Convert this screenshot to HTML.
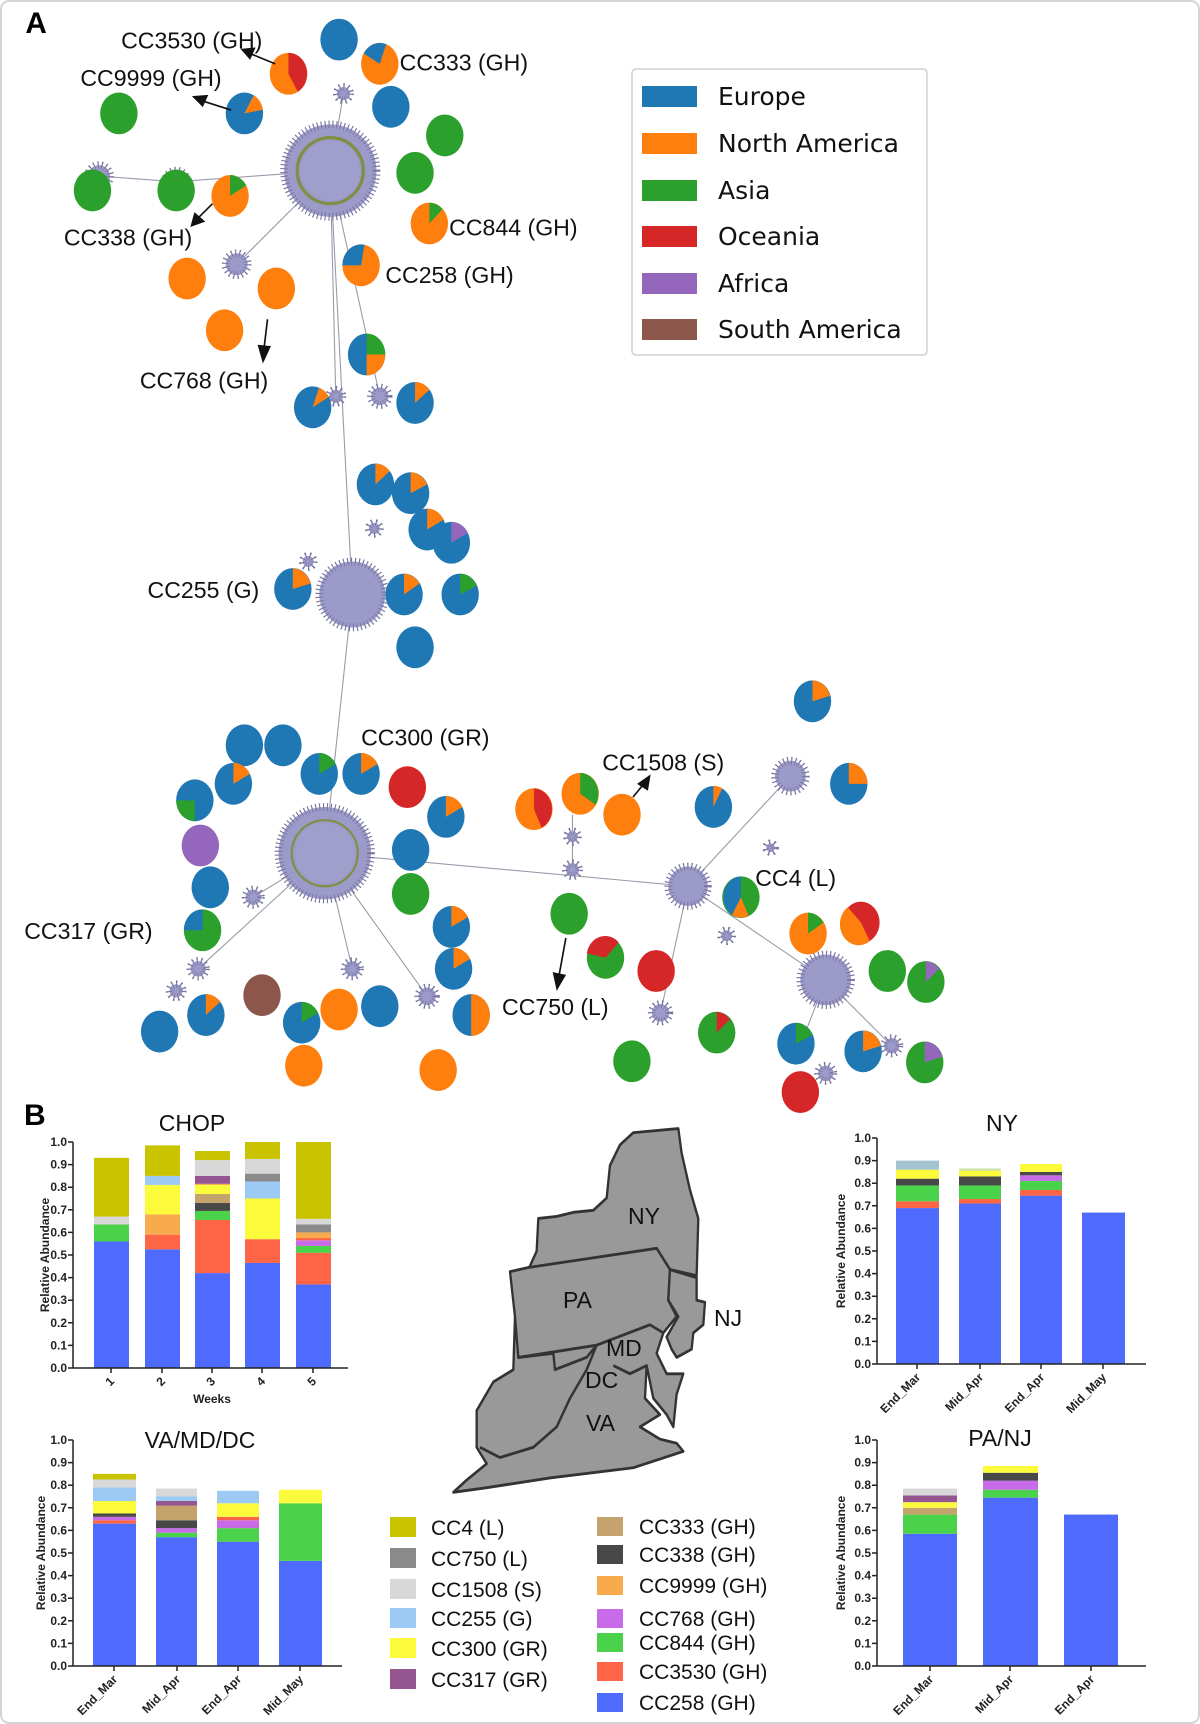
<!DOCTYPE html>
<html><head><meta charset="utf-8"><style>
html,body{margin:0;padding:0;background:#fff}
svg{display:block}
.t{font-family:"Liberation Sans",Arial,sans-serif;fill:#111}
.b{font-family:"Liberation Sans",Arial,sans-serif;font-weight:bold;fill:#222}
.dj{font-family:"DejaVu Sans","Liberation Sans",sans-serif;fill:#111}
.c4{fill:#c9c300}.c750{fill:#8a8a8a}.c1508{fill:#d8d8d8}.c255{fill:#9ccaf5}.c300{fill:#fbfb3c}.c317{fill:#955591}
.c333{fill:#c4a46c}.c338{fill:#484848}.c9999{fill:#f7ab4c}.c768{fill:#c86be8}.c844{fill:#4ad24a}.c3530{fill:#fe6446}.c258{fill:#4f6bfd}
.eu{fill:#1f77b4}.na{fill:#ff7f0e}.as{fill:#2ca02c}.oc{fill:#d62728}.af{fill:#9467bd}.sa{fill:#8c564b}
.hb{fill:#9c9ac8;stroke:#77759f;stroke-width:7;stroke-dasharray:1 2.5}
.ed{stroke:#9a9aaa;stroke-width:1;fill:none}
</style></head><body>
<svg width="1200" height="1724" viewBox="0 0 1200 1724" xmlns="http://www.w3.org/2000/svg">
<rect x="1" y="1" width="1198" height="1722" rx="8" fill="#fff" stroke="#d4d4d4" stroke-width="2"/>
<defs>
<g id="ax">
<line x1="0" y1="0" x2="0" y2="-226" stroke="#222" stroke-width="1.5"/>
<path d="M-5 0H0M-5 -22.6H0M-5 -45.2H0M-5 -67.8H0M-5 -90.4H0M-5 -113H0M-5 -135.6H0M-5 -158.2H0M-5 -180.8H0M-5 -203.4H0M-5 -226H0" stroke="#222" stroke-width="1.5"/>
<g class="b" font-size="12" text-anchor="end">
<text x="-6" y="4">0.0</text><text x="-6" y="-18.6">0.1</text><text x="-6" y="-41.2">0.2</text><text x="-6" y="-63.8">0.3</text><text x="-6" y="-86.4">0.4</text><text x="-6" y="-109">0.5</text><text x="-6" y="-131.6">0.6</text><text x="-6" y="-154.2">0.7</text><text x="-6" y="-176.8">0.8</text><text x="-6" y="-199.4">0.9</text><text x="-6" y="-222">1.0</text>
</g>
</g>
</defs>

<!-- PANEL A (displayed coords) -->
<g transform="scale(1.1009)">
<text x="23" y="30" class="b" font-size="27" style="fill:#000">A</text>
<g class="ed">
<path d="M300 155L320 540L295 775L625 805L750 890M625 805L718 705M300 155L160 165L90 160M300 155L215 240M300 155L312 85M300 155L345 360M300 155L305 360M295 775L180 880M295 775L388 905M625 805L600 920M295 775L230 815M295 775L320 880M750 890L810 950M750 890L725 955M520 790L520 740"/>
</g>
<g class="hb">
<circle cx="300" cy="155" r="42"/>
<circle cx="320" cy="540" r="30"/>
<circle cx="295" cy="775" r="42"/>
<circle cx="625" cy="805" r="18"/>
<circle cx="750" cy="890" r="23"/>
<circle cx="718" cy="705" r="14"/>
<circle cx="90" cy="160" r="10"/><circle cx="160" cy="165" r="10"/><circle cx="215" cy="240" r="10"/>
<circle cx="312" cy="85" r="6"/><circle cx="345" cy="360" r="8"/><circle cx="305" cy="360" r="6"/>
<circle cx="180" cy="880" r="7"/><circle cx="388" cy="905" r="8"/><circle cx="600" cy="920" r="8"/>
<circle cx="520" cy="790" r="6"/><circle cx="230" cy="815" r="7"/><circle cx="320" cy="880" r="7"/>
<circle cx="810" cy="950" r="7"/><circle cx="725" cy="955" r="7"/><circle cx="750" cy="975" r="7"/>
<circle cx="160" cy="900" r="6"/><circle cx="340" cy="480" r="5"/><circle cx="280" cy="510" r="5"/>
<circle cx="520" cy="760" r="5"/><circle cx="660" cy="850" r="5"/><circle cx="700" cy="770" r="4"/>
</g>
<circle cx="300" cy="155" r="30" fill="none" stroke="#7f8f45" stroke-width="3"/>
<circle cx="295" cy="775" r="30" fill="none" stroke="#7f8f45" stroke-width="2"/>
<circle cx="300" cy="155" r="27" fill="#a09ecb"/>
<circle cx="295" cy="775" r="27" fill="#a09ecb"/>
<g>
<ellipse cx="308" cy="36" rx="17" ry="19" class="eu"/>
<ellipse cx="262" cy="67" rx="17" ry="19" class="na"/><path d="M262 67L262 48A17 19 0 0 1 270.5 83.5Z" class="oc"/>
<ellipse cx="345" cy="58" rx="17" ry="19" class="na"/><path d="M345 58L330.3 48.5A17 19 0 0 1 350.8 40.1Z" class="eu"/>
<ellipse cx="222" cy="103" rx="17" ry="19" class="eu"/><path d="M222 103L230.5 86.5A17 19 0 0 1 238.7 99.7Z" class="na"/>
<ellipse cx="355" cy="97" rx="17" ry="19" class="eu"/>
<ellipse cx="108" cy="103" rx="17" ry="19" class="as"/>
<ellipse cx="404" cy="123" rx="17" ry="19" class="as"/>
<ellipse cx="377" cy="157" rx="17" ry="19" class="as"/>
<ellipse cx="84" cy="173" rx="17" ry="19" class="as"/>
<ellipse cx="160" cy="173" rx="17" ry="19" class="as"/>
<ellipse cx="209" cy="178" rx="17" ry="19" class="na"/><path d="M209 178L209 159A17 19 0 0 1 223.7 168.5Z" class="as"/>
<ellipse cx="390" cy="203" rx="17" ry="19" class="na"/><path d="M390 203L390 184A17 19 0 0 1 402 190Z" class="as"/>
<ellipse cx="328" cy="241" rx="17" ry="19" class="na"/><path d="M328 241L311 241A17 19 0 0 1 331 222.3Z" class="eu"/>
<ellipse cx="170" cy="253" rx="17" ry="19" class="na"/>
<ellipse cx="251" cy="262" rx="17" ry="19" class="na"/>
<ellipse cx="204" cy="300" rx="17" ry="19" class="na"/>
<ellipse cx="333" cy="322" rx="17" ry="19" class="eu"/><path d="M333 322L333 303A17 19 0 0 1 350 322Z" class="as"/><path d="M333 322L350 322A17 19 0 0 1 333 341Z" class="na"/>
<ellipse cx="284" cy="370" rx="17" ry="19" class="eu"/><path d="M284 370L289.8 352.1A17 19 0 0 1 298.7 360.5Z" class="na"/>
<ellipse cx="377" cy="366" rx="17" ry="19" class="eu"/><path d="M377 366L377 347A17 19 0 0 1 390 354Z" class="na"/>
<ellipse cx="341" cy="440" rx="17" ry="19" class="eu"/><path d="M341 440L341 421A17 19 0 0 1 354 428Z" class="na"/>
<ellipse cx="373" cy="448" rx="17" ry="19" class="eu"/><path d="M373 448L373 429A17 19 0 0 1 388 440Z" class="na"/>
<ellipse cx="388" cy="481" rx="17" ry="19" class="eu"/><path d="M388 481L388 462A17 19 0 0 1 403 472Z" class="na"/>
<ellipse cx="410" cy="493" rx="17" ry="19" class="eu"/><path d="M410 493L410 474A17 19 0 0 1 425 484Z" class="af"/>
<ellipse cx="266" cy="535" rx="17" ry="19" class="eu"/><path d="M266 535L266 516A17 19 0 0 1 282 530Z" class="na"/>
<ellipse cx="418" cy="540" rx="17" ry="19" class="eu"/><path d="M418 540L418 521A17 19 0 0 1 433 532Z" class="as"/>
<ellipse cx="367" cy="540" rx="17" ry="19" class="eu"/><path d="M367 540L367 521A17 19 0 0 1 381 530Z" class="na"/>
<ellipse cx="377" cy="588" rx="17" ry="19" class="eu"/>
<ellipse cx="222" cy="677" rx="17" ry="19" class="eu"/>
<ellipse cx="257" cy="677" rx="17" ry="19" class="eu"/>
<ellipse cx="212" cy="712" rx="17" ry="19" class="eu"/><path d="M212 712L212 693A17 19 0 0 1 227 703Z" class="na"/>
<ellipse cx="290" cy="703" rx="17" ry="19" class="eu"/><path d="M290 703L290 684A17 19 0 0 1 305 694Z" class="as"/>
<ellipse cx="328" cy="703" rx="17" ry="19" class="eu"/><path d="M328 703L328 684A17 19 0 0 1 343 694Z" class="na"/>
<ellipse cx="370" cy="715" rx="17" ry="19" class="oc"/>
<ellipse cx="177" cy="727" rx="17" ry="19" class="eu"/><path d="M177 727L177 746A17 19 0 0 1 160 727Z" class="as"/>
<ellipse cx="405" cy="742" rx="17" ry="19" class="eu"/><path d="M405 742L405 723A17 19 0 0 1 420 733Z" class="na"/>
<ellipse cx="182" cy="768" rx="17" ry="19" class="af"/>
<ellipse cx="373" cy="772" rx="17" ry="19" class="eu"/>
<ellipse cx="191" cy="806" rx="17" ry="19" class="eu"/>
<ellipse cx="373" cy="812" rx="17" ry="19" class="as"/>
<ellipse cx="184" cy="845" rx="17" ry="19" class="as"/><path d="M184 845L167 845A17 19 0 0 1 184 826Z" class="eu"/>
<ellipse cx="410" cy="842" rx="17" ry="19" class="eu"/><path d="M410 842L410 823A17 19 0 0 1 425 833Z" class="na"/>
<ellipse cx="412" cy="880" rx="17" ry="19" class="eu"/><path d="M412 880L412 861A17 19 0 0 1 427 871Z" class="na"/>
<ellipse cx="238" cy="904" rx="17" ry="19" class="sa"/>
<ellipse cx="145" cy="937" rx="17" ry="19" class="eu"/>
<ellipse cx="187" cy="922" rx="17" ry="19" class="eu"/><path d="M187 922L187 903A17 19 0 0 1 200 910Z" class="na"/>
<ellipse cx="274" cy="929" rx="17" ry="19" class="eu"/><path d="M274 929L274 910A17 19 0 0 1 289 920Z" class="as"/>
<ellipse cx="308" cy="917" rx="17" ry="19" class="na"/>
<ellipse cx="345" cy="914" rx="17" ry="19" class="eu"/>
<ellipse cx="428" cy="922" rx="17" ry="19" class="eu"/><path d="M428 922L428 903A17 19 0 0 1 428 941Z" class="na"/>
<ellipse cx="276" cy="968" rx="17" ry="19" class="na"/>
<ellipse cx="398" cy="972" rx="17" ry="19" class="na"/>
<ellipse cx="738" cy="637" rx="17" ry="19" class="eu"/><path d="M738 637L738 618A17 19 0 0 1 754 632Z" class="na"/>
<ellipse cx="485" cy="735" rx="17" ry="19" class="na"/><path d="M485 735L485 716A17 19 0 0 1 492 752Z" class="oc"/>
<ellipse cx="527" cy="721" rx="17" ry="19" class="na"/><path d="M527 721L527 702A17 19 0 0 1 541 731Z" class="as"/>
<ellipse cx="565" cy="740" rx="17" ry="19" class="na"/>
<ellipse cx="648" cy="733" rx="17" ry="19" class="eu"/><path d="M648 733L648 714A17 19 0 0 1 656 716Z" class="na"/>
<ellipse cx="771" cy="712" rx="17" ry="19" class="eu"/><path d="M771 712L771 693A17 19 0 0 1 788 712Z" class="na"/>
<ellipse cx="673" cy="815" rx="17" ry="19" class="as"/><path d="M673 815L665 831A17 19 0 0 1 673 796Z" class="eu"/><path d="M673 815L680 832A17 19 0 0 1 665 831Z" class="na"/>
<ellipse cx="517" cy="830" rx="17" ry="19" class="as"/>
<ellipse cx="782" cy="838" rx="17" ry="19" class="oc"/><path d="M782 838L790 855A17 19 0 0 1 770 824Z" class="na"/>
<ellipse cx="734" cy="848" rx="17" ry="19" class="na"/><path d="M734 848L734 829A17 19 0 0 1 748 838Z" class="as"/>
<ellipse cx="550" cy="870" rx="17" ry="19" class="as"/><path d="M550 870L533 866A17 19 0 0 1 562 856Z" class="oc"/>
<ellipse cx="596" cy="882" rx="17" ry="19" class="oc"/>
<ellipse cx="806" cy="882" rx="17" ry="19" class="as"/>
<ellipse cx="841" cy="892" rx="17" ry="19" class="as"/><path d="M841 892L841 873A17 19 0 0 1 853 880Z" class="af"/>
<ellipse cx="651" cy="938" rx="17" ry="19" class="as"/><path d="M651 938L651 919A17 19 0 0 1 663 926Z" class="oc"/>
<ellipse cx="723" cy="948" rx="17" ry="19" class="eu"/><path d="M723 948L723 929A17 19 0 0 1 738 940Z" class="as"/>
<ellipse cx="784" cy="955" rx="17" ry="19" class="eu"/><path d="M784 955L784 936A17 19 0 0 1 800 950Z" class="na"/>
<ellipse cx="840" cy="965" rx="17" ry="19" class="as"/><path d="M840 965L840 946A17 19 0 0 1 856 960Z" class="af"/>
<ellipse cx="574" cy="964" rx="17" ry="19" class="as"/>
<ellipse cx="727" cy="992" rx="17" ry="19" class="oc"/>
</g>
<g stroke="#111" stroke-width="1.5" fill="#111">
<line x1="250" y1="58" x2="228" y2="49"/><path d="M220 45L231 44L227 53Z"/>
<line x1="210" y1="100" x2="185" y2="92"/><path d="M176 88L188 87L184 96Z"/>
<line x1="193" y1="185" x2="180" y2="198"/><path d="M174 205L177 194L185 201Z"/>
<line x1="243" y1="290" x2="240" y2="315"/><path d="M239 328L235 314L245 315Z"/>
<line x1="575" y1="724" x2="584" y2="713"/><path d="M590 705L588 717L580 712Z"/>
<line x1="514" y1="852" x2="508" y2="885"/><path d="M506 898L503 884L513 886Z"/>
</g>
<g class="t" font-size="21">
<text x="110" y="44">CC3530 (GH)</text>
<text x="363" y="64">CC333 (GH)</text>
<text x="73" y="78">CC9999 (GH)</text>
<text x="58" y="223">CC338 (GH)</text>
<text x="408" y="214">CC844 (GH)</text>
<text x="350" y="257">CC258 (GH)</text>
<text x="127" y="353">CC768 (GH)</text>
<text x="134" y="543">CC255 (G)</text>
<text x="328" y="677">CC300 (GR)</text>
<text x="547" y="700">CC1508 (S)</text>
<text x="686" y="805">CC4 (L)</text>
<text x="22" y="853">CC317 (GR)</text>
<text x="456" y="922">CC750 (L)</text>
</g>
</g>

<rect x="632" y="69" width="295" height="286" rx="4" fill="#fff" stroke="#cfcfcf" stroke-width="1.5"/>
<rect x="642" y="86" width="55" height="21" class="eu"/>
<rect x="642" y="133" width="55" height="21" class="na"/>
<rect x="642" y="180" width="55" height="21" class="as"/>
<rect x="642" y="226" width="55" height="21" class="oc"/>
<rect x="642" y="273" width="55" height="21" class="af"/>
<rect x="642" y="319" width="55" height="21" class="sa"/>
<g class="dj" font-size="25">
<text x="718" y="105">Europe</text>
<text x="718" y="152">North America</text>
<text x="718" y="199">Asia</text>
<text x="718" y="245">Oceania</text>
<text x="718" y="292">Africa</text>
<text x="718" y="338">South America</text>
</g>

<text x="24" y="1125" class="b" font-size="30" style="fill:#000">B</text>

<text x="192" y="1131" class="t" font-size="23" text-anchor="middle">CHOP</text>
<g transform="translate(0,1368) scale(1,-226)">
<rect x="94" y="0" width="35" height=".56" class="c258"/><rect x="94" y=".56" width="35" height=".075" class="c844"/><rect x="94" y=".635" width="35" height=".035" class="c1508"/><rect x="94" y=".67" width="35" height=".26" class="c4"/>
<rect x="145" y="0" width="35" height=".525" class="c258"/><rect x="145" y=".525" width="35" height=".065" class="c3530"/><rect x="145" y=".59" width="35" height=".09" class="c9999"/><rect x="145" y=".68" width="35" height=".13" class="c300"/><rect x="145" y=".81" width="35" height=".04" class="c255"/><rect x="145" y=".85" width="35" height=".135" class="c4"/>
<rect x="195" y="0" width="35" height=".42" class="c258"/><rect x="195" y=".42" width="35" height=".235" class="c3530"/><rect x="195" y=".655" width="35" height=".04" class="c844"/><rect x="195" y=".695" width="35" height=".035" class="c338"/><rect x="195" y=".73" width="35" height=".04" class="c333"/><rect x="195" y=".77" width="35" height=".04" class="c300"/><rect x="195" y=".81" width="35" height=".005" class="c9999"/><rect x="195" y=".815" width="35" height=".035" class="c317"/><rect x="195" y=".85" width="35" height=".07" class="c1508"/><rect x="195" y=".92" width="35" height=".04" class="c4"/>
<rect x="245" y="0" width="35" height=".465" class="c258"/><rect x="245" y=".465" width="35" height=".105" class="c3530"/><rect x="245" y=".57" width="35" height=".18" class="c300"/><rect x="245" y=".75" width="35" height=".075" class="c255"/><rect x="245" y=".825" width="35" height=".035" class="c750"/><rect x="245" y=".86" width="35" height=".065" class="c1508"/><rect x="245" y=".925" width="35" height=".075" class="c4"/>
<rect x="296" y="0" width="35" height=".37" class="c258"/><rect x="296" y=".37" width="35" height=".14" class="c3530"/><rect x="296" y=".51" width="35" height=".03" class="c844"/><rect x="296" y=".54" width="35" height=".025" class="c768"/><rect x="296" y=".565" width="35" height=".01" class="c3530"/><rect x="296" y=".575" width="35" height=".025" class="c9999"/><rect x="296" y=".6" width="35" height=".035" class="c750"/><rect x="296" y=".635" width="35" height=".025" class="c1508"/><rect x="296" y=".66" width="35" height=".34" class="c4"/>
</g>
<use href="#ax" transform="translate(73,1368)"/>
<line x1="73" y1="1368" x2="348" y2="1368" stroke="#222" stroke-width="1.5"/>
<path d="M111 1368v5M162 1368v5M212 1368v5M262 1368v5M313 1368v5" stroke="#222" stroke-width="1.5"/>
<g class="b" font-size="12" text-anchor="end">
<text transform="translate(115,1382) rotate(-45)">1</text><text transform="translate(166,1382) rotate(-45)">2</text><text transform="translate(216,1382) rotate(-45)">3</text><text transform="translate(266,1382) rotate(-45)">4</text><text transform="translate(317,1382) rotate(-45)">5</text>
</g>
<text x="212" y="1403" class="b" font-size="12" text-anchor="middle">Weeks</text>
<text transform="translate(49,1255) rotate(-90)" class="b" font-size="12" text-anchor="middle">Relative Abundance</text>

<text x="200" y="1448" class="t" font-size="23" text-anchor="middle">VA/MD/DC</text>
<g transform="translate(0,1666) scale(1,-226)">
<rect x="93" y="0" width="43" height=".63" class="c258"/><rect x="93" y=".63" width="43" height=".015" class="c3530"/><rect x="93" y=".645" width="43" height=".015" class="c768"/><rect x="93" y=".66" width="43" height=".015" class="c338"/><rect x="93" y=".675" width="43" height=".055" class="c300"/><rect x="93" y=".73" width="43" height=".06" class="c255"/><rect x="93" y=".79" width="43" height=".035" class="c1508"/><rect x="93" y=".825" width="43" height=".025" class="c4"/>
<rect x="156" y="0" width="41" height=".57" class="c258"/><rect x="156" y=".57" width="41" height=".02" class="c844"/><rect x="156" y=".59" width="41" height=".02" class="c768"/><rect x="156" y=".61" width="41" height=".035" class="c338"/><rect x="156" y=".645" width="41" height=".065" class="c333"/><rect x="156" y=".71" width="41" height=".02" class="c317"/><rect x="156" y=".73" width="41" height=".02" class="c255"/><rect x="156" y=".75" width="41" height=".035" class="c1508"/>
<rect x="217" y="0" width="42" height=".55" class="c258"/><rect x="217" y=".55" width="42" height=".06" class="c844"/><rect x="217" y=".61" width="42" height=".035" class="c768"/><rect x="217" y=".645" width="42" height=".015" class="c3530"/><rect x="217" y=".66" width="42" height=".06" class="c300"/><rect x="217" y=".72" width="42" height=".055" class="c255"/>
<rect x="279" y="0" width="43" height=".465" class="c258"/><rect x="279" y=".465" width="43" height=".255" class="c844"/><rect x="279" y=".72" width="43" height=".06" class="c300"/>
</g>
<use href="#ax" transform="translate(73,1666)"/>
<line x1="73" y1="1666" x2="342" y2="1666" stroke="#222" stroke-width="1.5"/>
<path d="M114 1666v5M177 1666v5M238 1666v5M300 1666v5" stroke="#222" stroke-width="1.5"/>
<g class="b" font-size="12" text-anchor="end">
<text transform="translate(118,1680) rotate(-45)">End_Mar</text><text transform="translate(181,1680) rotate(-45)">Mid_Apr</text><text transform="translate(242,1680) rotate(-45)">End_Apr</text><text transform="translate(304,1680) rotate(-45)">Mid_May</text>
</g>
<text transform="translate(45,1553) rotate(-90)" class="b" font-size="12" text-anchor="middle">Relative Abundance</text>

<text x="1002" y="1131" class="t" font-size="23" text-anchor="middle">NY</text>
<g transform="translate(0,1364) scale(1,-226)">
<rect x="896" y="0" width="43" height=".69" class="c258"/><rect x="896" y=".69" width="43" height=".03" class="c3530"/><rect x="896" y=".72" width="43" height=".07" class="c844"/><rect x="896" y=".79" width="43" height=".03" class="c338"/><rect x="896" y=".82" width="43" height=".04" class="c300"/><rect x="896" y=".86" width="43" height=".04" fill="#a3c3d3"/>
<rect x="959" y="0" width="42" height=".71" class="c258"/><rect x="959" y=".71" width="42" height=".02" class="c3530"/><rect x="959" y=".73" width="42" height=".06" class="c844"/><rect x="959" y=".79" width="42" height=".04" class="c338"/><rect x="959" y=".83" width="42" height=".025" class="c300"/><rect x="959" y=".855" width="42" height=".01" fill="#c8e0a0"/>
<rect x="1020" y="0" width="42" height=".745" class="c258"/><rect x="1020" y=".745" width="42" height=".025" class="c3530"/><rect x="1020" y=".77" width="42" height=".04" class="c844"/><rect x="1020" y=".81" width="42" height=".025" class="c768"/><rect x="1020" y=".835" width="42" height=".015" class="c338"/><rect x="1020" y=".85" width="42" height=".035" class="c300"/>
<rect x="1082" y="0" width="43" height=".67" class="c258"/>
</g>
<use href="#ax" transform="translate(877,1364)"/>
<line x1="877" y1="1364" x2="1146" y2="1364" stroke="#222" stroke-width="1.5"/>
<path d="M917 1364v5M980 1364v5M1041 1364v5M1103 1364v5" stroke="#222" stroke-width="1.5"/>
<g class="b" font-size="12" text-anchor="end">
<text transform="translate(921,1378) rotate(-45)">End_Mar</text><text transform="translate(984,1378) rotate(-45)">Mid_Apr</text><text transform="translate(1045,1378) rotate(-45)">End_Apr</text><text transform="translate(1107,1378) rotate(-45)">Mid_May</text>
</g>
<text transform="translate(845,1251) rotate(-90)" class="b" font-size="12" text-anchor="middle">Relative Abundance</text>

<text x="1000" y="1446" class="t" font-size="23" text-anchor="middle">PA/NJ</text>
<g transform="translate(0,1666) scale(1,-226)">
<rect x="903" y="0" width="54" height=".585" class="c258"/><rect x="903" y=".585" width="54" height=".085" class="c844"/><rect x="903" y=".67" width="54" height=".03" class="c333"/><rect x="903" y=".7" width="54" height=".025" class="c300"/><rect x="903" y=".725" width="54" height=".03" class="c317"/><rect x="903" y=".755" width="54" height=".03" class="c1508"/>
<rect x="983" y="0" width="55" height=".745" class="c258"/><rect x="983" y=".745" width="55" height=".035" class="c844"/><rect x="983" y=".78" width="55" height=".04" class="c768"/><rect x="983" y=".82" width="55" height=".035" class="c338"/><rect x="983" y=".855" width="55" height=".03" class="c300"/>
<rect x="1064" y="0" width="54" height=".67" class="c258"/>
</g>
<use href="#ax" transform="translate(877,1666)"/>
<line x1="877" y1="1666" x2="1146" y2="1666" stroke="#222" stroke-width="1.5"/>
<path d="M930 1666v5M1010 1666v5M1091 1666v5" stroke="#222" stroke-width="1.5"/>
<g class="b" font-size="12" text-anchor="end">
<text transform="translate(934,1680) rotate(-45)">End_Mar</text><text transform="translate(1014,1680) rotate(-45)">Mid_Apr</text><text transform="translate(1095,1680) rotate(-45)">End_Apr</text>
</g>
<text transform="translate(845,1553) rotate(-90)" class="b" font-size="12" text-anchor="middle">Relative Abundance</text>

<!-- MAP -->
<g transform="translate(400,1087.7) scale(0.3333,0.40866)" fill="#999" stroke="#333" stroke-width="7" stroke-linejoin="round">
<path d="M345 560L600 600L750 575L790 600L770 650L800 700L850 700L830 750L820 830L800 800L760 760L740 680L735 760L780 800L720 830L780 860L830 870L850 890L700 930L450 955L250 980L160 990L200 960L260 920L230 880L230 790L280 720L340 690Z"/>
<path d="M385 445L410 400L415 320L470 315L520 305L580 300L620 270L630 190L660 140L700 110L835 100L845 160L870 250L895 320L890 460L810 445L770 395Z"/>
<path d="M330 450L385 440L770 393L810 445L805 520L830 560L790 600L750 580L590 630L355 660L345 560Z"/>
<path d="M810 445L890 465L890 520L915 525L910 580L880 600L875 640L830 660L815 640L800 610L835 560L805 520Z"/>
<path d="M355 660L460 650L465 690L560 660L590 630" fill="none"/>
<path d="M590 630L560 690L510 760L470 830L400 880L300 905L240 880" fill="none"/>
<path d="M640 680L690 700L740 680" fill="none"/>
</g>
<g class="t" font-size="23" style="fill:#111">
<text x="628" y="1224">NY</text>
<text x="563" y="1308">PA</text>
<text x="714" y="1326">NJ</text>
<text x="606" y="1356">MD</text>
<text x="585" y="1388">DC</text>
<text x="586" y="1431">VA</text>
</g>

<rect x="390" y="1517" width="26" height="20" class="c4"/>
<rect x="390" y="1548" width="26" height="20" class="c750"/>
<rect x="390" y="1579" width="26" height="20" class="c1508"/>
<rect x="390" y="1608" width="26" height="20" class="c255"/>
<rect x="390" y="1638" width="26" height="20" class="c300"/>
<rect x="390" y="1669" width="26" height="20" class="c317"/>
<g class="t" font-size="21">
<text x="431" y="1535">CC4 (L)</text>
<text x="431" y="1566">CC750 (L)</text>
<text x="431" y="1597">CC1508 (S)</text>
<text x="431" y="1626">CC255 (G)</text>
<text x="431" y="1656">CC300 (GR)</text>
<text x="431" y="1687">CC317 (GR)</text>
</g>
<rect x="597" y="1517" width="26" height="19" class="c333"/>
<rect x="597" y="1545" width="26" height="19" class="c338"/>
<rect x="597" y="1576" width="26" height="19" class="c9999"/>
<rect x="597" y="1609" width="26" height="19" class="c768"/>
<rect x="597" y="1633" width="26" height="19" class="c844"/>
<rect x="597" y="1662" width="26" height="19" class="c3530"/>
<rect x="597" y="1693" width="26" height="19" class="c258"/>
<g class="t" font-size="21">
<text x="639" y="1534">CC333 (GH)</text>
<text x="639" y="1562">CC338 (GH)</text>
<text x="639" y="1593">CC9999 (GH)</text>
<text x="639" y="1626">CC768 (GH)</text>
<text x="639" y="1650">CC844 (GH)</text>
<text x="639" y="1679">CC3530 (GH)</text>
<text x="639" y="1710">CC258 (GH)</text>
</g>
</svg>
</body></html>
